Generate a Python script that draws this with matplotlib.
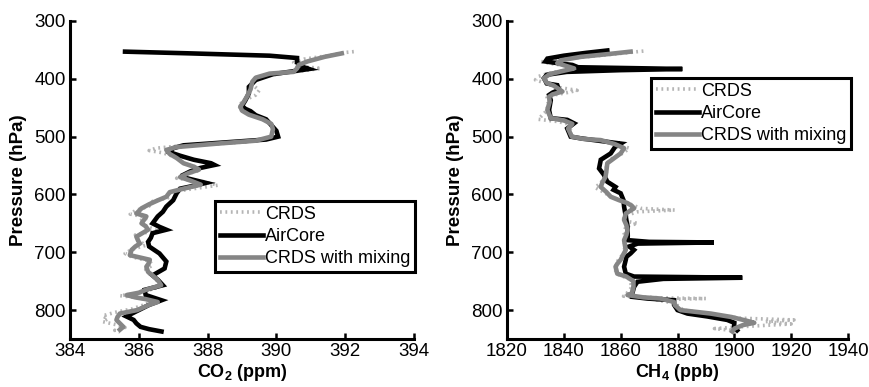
import matplotlib
matplotlib.use("Agg")
import matplotlib.pyplot as plt

plt.rcParams['font.family'] = ['Liberation Sans', 'DejaVu Sans']
plt.rcParams['mathtext.fontset'] = 'custom'
plt.rcParams['mathtext.rm'] = 'Liberation Sans:bold'
plt.rcParams['mathtext.bf'] = 'Liberation Sans:bold'
plt.rcParams['mathtext.default'] = 'bf'

# ---------------- CO2 profiles (pressure hPa, mole fraction ppm) ----------------
co2_air_p = [353, 356, 360, 364, 372, 380, 383, 386, 392, 402, 414, 425, 437, 447, 452,
             456, 463, 470, 480, 490, 500, 505, 510, 515, 520, 527, 533, 540, 546, 549,
             554, 560, 566, 572, 580, 585, 590, 598, 610, 621, 630, 638, 650, 656, 661,
             667, 675, 682, 690, 702, 716, 728, 740, 748, 757, 765, 774, 783, 791, 800,
             806, 811, 817, 823, 829, 833, 837]
co2_air = [385.6, 387.5, 389.8, 390.6, 390.6, 390.8, 390.95, 390.6, 389.9, 389.4, 389.2,
           389.2, 389.1, 389.0, 389.1, 389.25, 389.4, 389.7, 389.85, 390.0, 390.05, 389.7,
           388.5, 387.3, 387.0, 386.9, 387.2, 387.6, 388.1, 388.2, 387.8, 387.5, 387.3,
           387.4, 387.95, 387.6, 387.2, 387.1, 387.0, 386.8, 386.7, 386.55, 386.4, 386.6,
           386.8, 386.4, 386.35, 386.27, 386.3, 386.6, 386.8, 386.75, 386.4, 386.56, 386.7,
           386.17, 386.2, 386.66, 386.3, 386.0, 385.8, 385.64, 385.85, 385.93, 386.05,
           386.3, 386.66]

co2_mix_p = [356, 362, 370, 376, 382, 388, 391, 398, 405, 418, 430, 440, 448, 455, 462,
             470, 478, 487, 500, 507, 512, 518, 523, 530, 537, 546, 552, 557, 563, 570,
             576, 583, 590, 596, 604, 610, 617, 624, 633, 638, 644, 650, 655, 661, 667,
             673, 680, 685, 690, 696, 705, 713, 720, 725, 734, 740, 748, 757, 765, 770,
             774, 778, 781, 786, 791, 800, 806, 812, 817, 823, 829, 834]
co2_mix = [391.9, 391.4, 390.9, 390.65, 390.6, 390.5, 389.8, 389.4, 389.3, 389.25, 389.15,
           389.05, 388.95, 389.0, 389.2, 389.6, 389.85, 389.9, 389.85, 389.4, 388.3, 387.1,
           386.8, 386.9, 387.1, 387.3, 387.6, 387.75, 387.45, 387.2, 387.5, 387.8, 387.3,
           386.9, 386.8, 386.56, 386.3, 386.08, 385.93, 386.22, 386.15, 386.08, 386.2,
           386.27, 386.1, 385.93, 385.98, 386.03, 385.9, 385.79, 385.74, 386.32, 386.28,
           386.22, 386.27, 386.4, 386.55, 386.65, 386.2, 386.0, 385.65, 385.9, 386.2,
           386.55, 386.3, 385.95, 385.45, 385.38, 385.35, 385.45, 385.55, 385.45]

co2_crds_p = [353, 355, 360, 366, 372, 378, 382, 385, 390, 398, 410, 420, 428, 436, 446,
              455, 465, 475, 488, 500, 506, 510, 516, 520, 524, 528, 536, 546, 553, 558,
              566, 572, 578, 584, 590, 596, 605, 612, 620, 628, 634, 640, 646, 654, 662,
              670, 680, 688, 695, 702, 708, 715, 722, 730, 736, 745, 760, 772, 775, 779,
              783, 790, 798, 804, 810, 815, 820, 826, 830, 835, 838]
co2_crds = [392.25, 391.9, 391.5, 390.8, 390.5, 390.6, 391.3, 390.9, 390.2, 389.4, 389.3,
            389.5, 389.4, 389.1, 388.9, 389.0, 389.4, 389.8, 389.9, 389.85, 389.6, 388.9,
            387.2, 386.5, 386.3, 386.7, 387.1, 387.3, 387.7, 387.8, 387.3, 387.1, 387.9,
            388.3, 387.6, 386.9, 386.9, 386.4, 386.3, 385.9, 385.75, 386.3, 386.0, 386.2,
            386.5, 385.9, 386.0, 386.2, 385.8, 385.6, 385.8, 386.3, 386.4, 386.2, 386.3,
            386.5, 386.6, 385.9, 385.45, 386.0, 386.4, 386.2, 385.8, 385.3, 384.95, 385.1,
            384.95, 385.4, 385.6, 385.3, 385.45]

# ---------------- CH4 profiles (pressure hPa, mole fraction ppb) ----------------
ch4_air_p = [351, 355, 360, 365, 370, 373, 376, 380, 382, 383, 385, 388, 393, 399, 408,
             411, 419, 424, 428, 437, 454, 468, 471, 477, 486, 500, 503, 509, 512, 518,
             529, 540, 555, 566, 578, 587, 592, 598, 610, 621, 638, 656, 672, 679, 682,
             683, 685, 690, 696, 702, 708, 713, 725, 737, 742, 743, 744, 746, 751, 760,
             771, 777, 780, 783, 791, 800, 806, 811, 817, 822, 829, 835]
ch4_air = [1855.3, 1848, 1840, 1834.2, 1833.5, 1838, 1843, 1845, 1870, 1881.7, 1860, 1841,
           1834, 1833, 1834, 1837.7, 1838.3, 1836, 1834.8, 1835.4, 1834.8, 1835.4, 1841.2,
           1843.6, 1841.2, 1842.4, 1846, 1855.3, 1860, 1858, 1856.5, 1853, 1852.4, 1854.1,
           1855.3, 1858.2, 1857.5, 1860, 1861, 1861.2, 1861.8, 1862.4, 1862.5, 1862.4,
           1870, 1892.8, 1866, 1863, 1864.7, 1863.5, 1862, 1861.8, 1861.2, 1861.8, 1864.7,
           1885, 1902.8, 1875, 1865.9, 1864.7, 1864.1, 1864, 1869.4, 1878.8, 1878.8, 1880,
           1883.5, 1890.5, 1897.5, 1900, 1899.9, 1901]

ch4_mix_p = [353, 357, 362, 368, 373, 378, 382, 386, 392, 399, 407, 412, 416, 422, 427,
             431, 440, 454, 468, 472, 478, 486, 500, 504, 506, 513, 520, 529, 538, 546,
             558, 569, 580, 587, 596, 604, 610, 615, 620, 624, 633, 644, 653, 662, 670,
             679, 688, 696, 705, 713, 720, 725, 737, 742, 750, 760, 771, 774, 778, 780,
             786, 791, 800, 806, 812, 818, 822, 826, 832, 837]
ch4_mix = [1863.5, 1856, 1846, 1839, 1837.7, 1841, 1843.6, 1840, 1835, 1833, 1834, 1836.5,
           1837.7, 1839.5, 1836, 1834.8, 1835, 1834.2, 1835.4, 1840, 1843, 1841.5, 1842.8,
           1847, 1853, 1858, 1861.2, 1860, 1857.5, 1855.3, 1855, 1854.7, 1853.5, 1853,
           1855, 1856.5, 1859.5, 1862.4, 1864, 1864.7, 1861.8, 1861.2, 1862, 1862.4, 1862,
           1861.2, 1861.5, 1861.8, 1860.8, 1860, 1858.8, 1858.2, 1858.8, 1862, 1864.5,
           1864.5, 1864, 1862.4, 1868, 1874, 1878.8, 1879, 1881, 1891.7, 1899, 1904, 1907,
           1903, 1900, 1899.3]

ch4_crds_p = [352, 355, 360, 366, 370, 374, 380, 384, 390, 396, 402, 408, 414, 420, 424,
              430, 440, 455, 465, 470, 474, 480, 490, 500, 506, 512, 520, 528, 540, 550,
              565, 580, 588, 596, 605, 612, 618, 624, 627, 630, 636, 645, 650, 655, 665,
              675, 690, 700, 710, 720, 730, 738, 746, 760, 772, 776, 779, 780, 782, 788,
              800, 808, 814, 817, 820, 824, 828, 832, 836]
ch4_crds = [1868, 1862, 1852, 1839, 1832, 1836, 1845, 1842, 1835, 1831, 1830, 1834, 1837,
            1844.7, 1841, 1834, 1834.5, 1834, 1832, 1831, 1838, 1843, 1842, 1843, 1851,
            1858, 1863, 1861, 1856, 1855, 1855, 1853, 1851, 1854, 1857, 1861, 1864, 1867,
            1879, 1866, 1862, 1860.5, 1866, 1862, 1861, 1862, 1861, 1862, 1859.5, 1858.5,
            1858, 1859, 1863, 1864, 1862, 1861, 1875, 1890, 1872, 1879, 1882, 1893, 1902,
            1921, 1911, 1920, 1905, 1893, 1901]

pressure_ticks = [300, 400, 500, 600, 700, 800]
co2_ticks = [384, 386, 388, 390, 392, 394]
ch4_ticks = [1820, 1840, 1860, 1880, 1900, 1920, 1940]

series_labels = ['CRDS', 'AirCore', 'CRDS with mixing']

fig = plt.figure(figsize=(8.69, 3.87), dpi=100)
ax1 = fig.add_axes([70 / 869, 1 - 339 / 387, 344 / 869, 318 / 387])
ax2 = fig.add_axes([507 / 869, 1 - 339 / 387, 341 / 869, 318 / 387])

crds_style = dict(color='#b5b5b5', lw=2.6, linestyle=(0, (0.5, 1.0)))
air_style = dict(color='black', lw=3.3, solid_joinstyle='miter')
mix_style = dict(color='#858585', lw=3.3)


def draw_panel(ax, crds_x, crds_p, air_x, air_p, mix_x, mix_p, xticks, xlabel, legend_box):
    ax.plot(crds_x, crds_p, label=series_labels[0], **crds_style)
    ax.plot(air_x, air_p, label=series_labels[1], **air_style)
    ax.plot(mix_x, mix_p, label=series_labels[2], **mix_style)
    ax.set_xlim(xticks[0], xticks[-1])
    ax.set_ylim(850, 300)
    ax.set_xticks(xticks)
    ax.set_yticks(pressure_ticks)
    for side in ('top', 'right'):
        ax.spines[side].set_visible(False)
    for side in ('left', 'bottom'):
        ax.spines[side].set_linewidth(2.2)
    ax.tick_params(direction='in', length=4, width=1.8, labelsize=13.5, pad=3)
    ax.set_xlabel(xlabel, fontsize=13, fontweight='bold', labelpad=1)
    ax.set_ylabel('Pressure (hPa)', fontsize=13.5, fontweight='bold', labelpad=5)
    leg = ax.legend(loc='upper right', bbox_to_anchor=legend_box,
                    bbox_transform=fig.transFigure, fontsize=13, frameon=True,
                    fancybox=False, edgecolor='black', framealpha=1,
                    handlelength=2.4, handletextpad=0.1, labelspacing=0.3,
                    borderpad=0.25, borderaxespad=0)
    leg.get_frame().set_linewidth(2.2)


draw_panel(ax1, co2_crds, co2_crds_p, co2_air, co2_air_p, co2_mix, co2_mix_p,
           co2_ticks, r'CO$_2$ (ppm)', (415 / 869, 1 - 201 / 387))
draw_panel(ax2, ch4_crds, ch4_crds_p, ch4_air, ch4_air_p, ch4_mix, ch4_mix_p,
           ch4_ticks, r'CH$_4$ (ppb)', (851 / 869, 1 - 78 / 387))

fig.savefig('out.png', dpi=100)
